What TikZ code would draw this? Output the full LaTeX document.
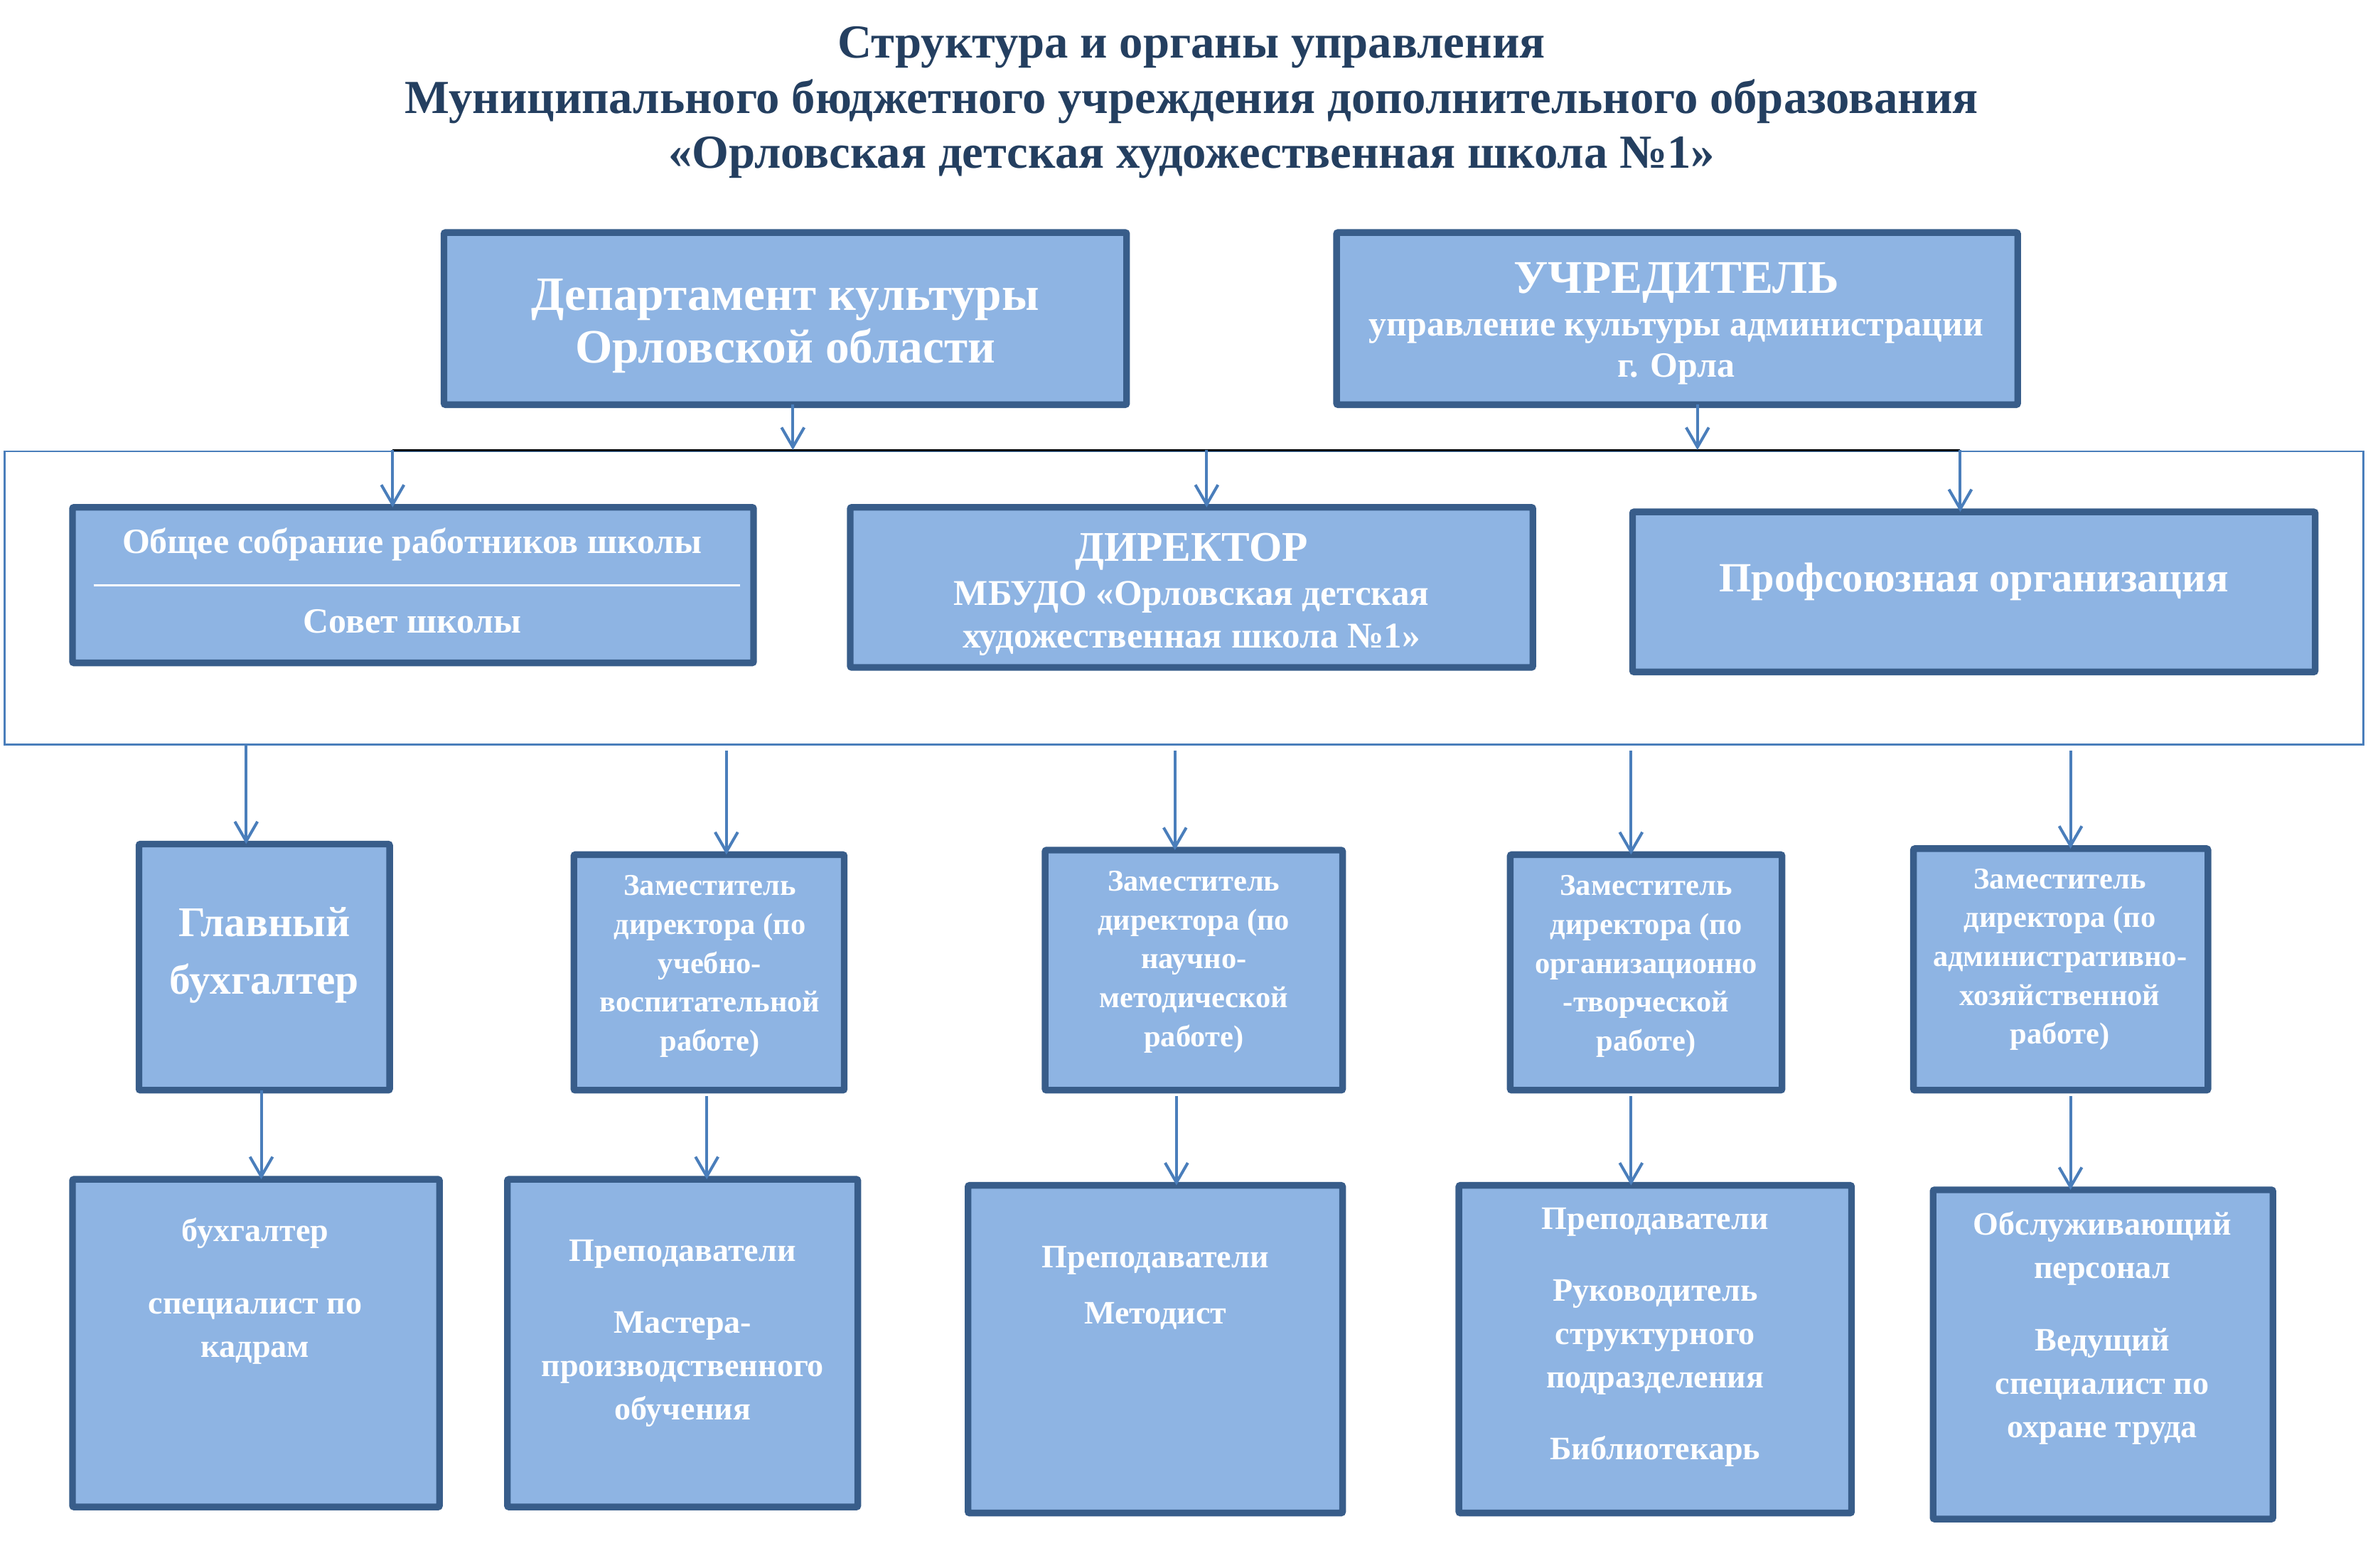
\documentclass[tikz,border=0pt]{standalone}
\usepackage{fontspec}
\setmainfont{Liberation Serif}
\usetikzlibrary{arrows.meta,calc}
\definecolor{fillb}{HTML}{8EB4E3}
\definecolor{edgeb}{HTML}{385D8A}
\definecolor{arrb}{HTML}{4A7EBB}
\definecolor{titlec}{HTML}{243F60}
\newcommand\myfs[2]{\fontsize{#1}{#2}\selectfont}
\tikzset{
 box/.style={draw=edgeb, fill=fillb, line width=4.4pt, inner sep=0pt, outer sep=0pt, rounded corners=1pt},
 txt/.style={text=white, align=center, inner sep=0pt, yshift=-2.5pt},
 arr/.style={draw=arrb, line width=1.9pt, -{Straight Barb[length=13pt,width=15pt]}},
 frameb/.style={draw=arrb, line width=1.2pt, inner sep=0pt, outer sep=0pt},
}
\begin{document}
\begin{tikzpicture}[x=1pt,y=-1pt]
\useasboundingbox (0,0) rectangle (1568,1038);
% title
\node[text=titlec, font=\bfseries\myfs{31.4}{36.5}, align=center, inner sep=0pt] (title) at (789,68)
 {Структура и органы управления\\Муниципального бюджетного учреждения дополнительного образования\\«Орловская детская художественная школа №1»};
% frame
\node[frameb, minimum width=1562pt, minimum height=194pt] (frame) at (784,396) {};
% top boxes
\node[box, minimum width=452pt, minimum height=114pt] (dept) at (520,211) {};
\node[box, minimum width=451pt, minimum height=114pt] (uchr) at (1110.5,211) {};
% middle boxes
\node[box, minimum width=451pt, minimum height=103pt] (obsh) at (273.5,387.5) {};
\node[box, minimum width=452pt, minimum height=106pt] (dir) at (789,389) {};
\node[box, minimum width=452pt, minimum height=106pt] (prof) at (1307,392) {};
% row 3
\node[box, minimum width=166pt, minimum height=163pt] (glav) at (175,640.5) {};
\node[box, minimum width=179pt, minimum height=156pt] (uvr) at (469.5,644) {};
\node[box, minimum width=197pt, minimum height=159pt] (nmr) at (790.5,642.5) {};
\node[box, minimum width=180pt, minimum height=156pt] (otr) at (1090,644) {};
\node[box, minimum width=195pt, minimum height=160pt] (ahr) at (1364.5,642) {};
% row 4
\node[box, minimum width=243pt, minimum height=217pt] (b1) at (169.5,889.5) {};
\node[box, minimum width=232pt, minimum height=217pt] (b2) at (452,889.5) {};
\node[box, minimum width=248pt, minimum height=217pt] (b3) at (765,893.5) {};
\node[box, minimum width=260pt, minimum height=217pt] (b4) at (1096,893.5) {};
\node[box, minimum width=225pt, minimum height=218pt] (b5) at (1392.5,897) {};
% texts
\node[txt, font=\bfseries\myfs{31.7}{35}] (tdept) at (520,213.5) {Департамент культуры\\Орловской области};
\node[txt, font=\bfseries\myfs{31}{35}] (tuchr1) at (1110,185) {УЧРЕДИТЕЛЬ};
\node[txt, font=\bfseries\myfs{23.5}{27}] (tuchr2) at (1110,230.5) {управление культуры администрации\\г. Орла};
\node[txt, font=\bfseries\myfs{23.5}{27}] (tobsh1) at (273,358) {Общее собрание работников школы};
\node[txt, font=\bfseries\myfs{23.5}{27}] (tobsh2) at (273,409) {Совет школы};
\draw[white, line width=1.3pt] ($(obsh.west)+(14,0)$) -- ($(obsh.east)+(-9,0)$);
\node[txt, font=\bfseries\myfs{28}{32}] (tdir1) at (789,363) {ДИРЕКТОР};
\node[txt, font=\bfseries\myfs{24}{28}] (tdir2) at (789,407) {МБУДО «Орловская детская\\художественная школа №1»};
\node[txt, font=\bfseries\myfs{27.5}{32}] (tprof) at (1307,383) {Профсоюзная организация};
\node[txt, font=\bfseries\myfs{28}{38}] (tglav) at (175,630) {Главный\\бухгалтер};
\node[txt, font=\bfseries\myfs{20}{25.75}] (tuvr) at (470,637.5) {Заместитель\\директора (по\\учебно-\\воспитательной\\работе)};
\node[txt, font=\bfseries\myfs{20}{25.75}] (tnmr) at (790.5,634.5) {Заместитель\\директора (по\\научно-\\методической\\работе)};
\node[txt, font=\bfseries\myfs{20}{25.75}] (totr) at (1090,637.5) {Заместитель\\директора (по\\организационно\\-творческой\\работе)};
\node[txt, font=\bfseries\myfs{20}{25.75}] (tahr) at (1364,633) {Заместитель\\директора (по\\административно-\\хозяйственной\\работе)};
\node[txt, font=\bfseries\myfs{21.7}{28.7}] (tb1) at (169,852.5) {бухгалтер\\[19pt]специалист по\\кадрам};
\node[txt, font=\bfseries\myfs{21.7}{28.7}] (tb2) at (452,880.5) {Преподаватели\\[19pt]Мастера-\\производственного\\обучения};
\node[txt, font=\bfseries\myfs{21.7}{37}] (tb3) at (765,850.5) {Преподаватели\\Методист};
\node[txt, font=\bfseries\myfs{21.7}{28.7}] (tb4) at (1096,883) {Преподаватели\\[19pt]Руководитель\\структурного\\подразделения\\[19pt]Библиотекарь};
\node[txt, font=\bfseries\myfs{21.7}{28.7}] (tb5) at (1392,877) {Обслуживающий\\персонал\\[19pt]Ведущий\\специалист по\\охране труда};
% bus line
\coordinate (busL) at (260,298);
\coordinate (busR) at (1298,298);
\draw[black, line width=1.4pt] (busL) -- (busR);
% arrows top to bus
\coordinate (xa) at (525,0);
\coordinate (xb) at (1124,0);
\draw[arr] (dept.south -| xa) -- (busL -| xa);
\draw[arr] (uchr.south -| xb) -- (busL -| xb);
% bus to middle
\coordinate (xc) at (799,0);
\draw[arr] (busL) -- (obsh.north -| busL);
\draw[arr] (busL -| xc) -- (dir.north -| xc);
\draw[arr] (busR) -- (prof.north -| busR);
% frame to row 3
\coordinate (x1) at (163,0);
\coordinate (x2) at (481,0);
\coordinate (x3) at (778,0);
\coordinate (x4) at (1080,0);
\coordinate (x5) at (1371,0);
\draw[arr] (frame.south -| x1) -- (glav.north -| x1);
\draw[arr] ([yshift=-4pt]frame.south -| x2) -- (uvr.north -| x2);
\draw[arr] ([yshift=-4pt]frame.south -| x3) -- (nmr.north -| x3);
\draw[arr] ([yshift=-4pt]frame.south -| x4) -- (otr.north -| x4);
\draw[arr] ([yshift=-4pt]frame.south -| x5) -- (ahr.north -| x5);
% row 3 to row 4
\coordinate (y1) at (173,0);
\coordinate (y2) at (468,0);
\coordinate (y3) at (779,0);
\coordinate (y4) at (1080,0);
\coordinate (y5) at (1371,0);
\draw[arr] (glav.south -| y1) -- (b1.north -| y1);
\draw[arr] ([yshift=-4pt]uvr.south -| y2) -- (b2.north -| y2);
\draw[arr] ([yshift=-4pt]nmr.south -| y3) -- (b3.north -| y3);
\draw[arr] ([yshift=-4pt]otr.south -| y4) -- (b4.north -| y4);
\draw[arr] ([yshift=-4pt]ahr.south -| y5) -- (b5.north -| y5);
\end{tikzpicture}
\end{document}
